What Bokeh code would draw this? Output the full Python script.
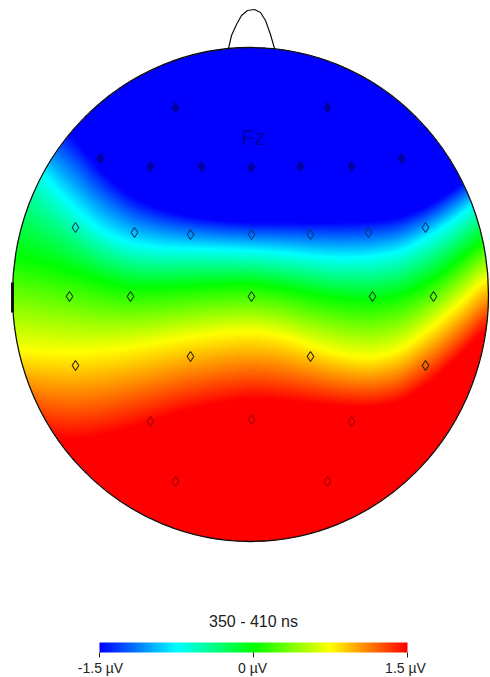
import numpy as np
from bokeh.plotting import figure
from bokeh.models import LinearColorMapper, ColumnDataSource
from bokeh.embed import file_html
from bokeh.resources import INLINE
from bokeh.core.properties import value

# map frame: reference pixel coordinates
iso_x = [12, 40, 70, 100, 130, 160, 190, 220, 250, 280, 310, 340, 370, 400, 430, 460, 488]
iso_blue = [95, 110, 132, 170, 196, 209, 216, 220, 222, 222, 222, 222, 221, 217, 204, 184, 160]
iso_cyan = [135, 170, 204, 230, 243, 247, 248, 249, 250, 252, 255, 257, 256, 251, 235, 215, 190]
iso_green = [255, 262, 270, 280, 287, 287, 285, 284, 283, 287, 293, 298, 300, 295, 281, 258, 235]
iso_yellow = [350, 352, 353, 351, 347, 342, 337, 333, 331, 335, 345, 354, 358, 350, 328, 303, 275]
iso_red = [420, 435, 440, 436, 428, 418, 409, 403, 398, 400, 403, 406, 407, 402, 382, 355, 325]
iso_levels = [-1.5, -0.75, 0.0, 0.75, 1.5]

head_cx, head_cy, head_rx, head_ry = 250, 294, 238, 247
nose_x = [228, 231, 236, 241, 247, 254, 260, 265, 270, 274]
nose_y = [48, 35, 24, 15, 10, 9, 12, 20, 34, 48]

el_x = [175, 327,
        100, 150, 201, 251, 300, 351, 401,
        75, 134, 190, 251, 310, 368, 425,
        69, 130, 251, 372, 433,
        75, 190, 310, 425,
        150, 251, 351,
        175, 327]
el_y = [107, 107,
        158, 166, 166, 167, 166, 166, 158,
        227, 232, 234, 234, 234, 232, 227,
        296, 296, 296, 296, 296,
        365, 356, 356, 365,
        421, 419, 421,
        481, 481]
el_color = ["#000090"] * 9 + ["#063a78"] * 7 + ["#103c10"] * 5 + ["#302000"] * 4 + ["#a00000"] * 5
el_fill = ["#0000a8"] * 9 + [None] * 21

title_text = "350 - 410 ns"
scale_labels = ["-1.5 \u00b5V", "0 \u00b5V", "1.5 \u00b5V"]
stop_vals = [-1.5, -0.75, 0.0, 0.75, 1.5]
stop_rgb = [(0, 0, 255), (0, 255, 255), (0, 255, 0), (255, 255, 0), (255, 0, 0)]

# palette
t = np.linspace(-1.5, 1.5, 256)
pal = ["#%02x%02x%02x" % tuple(int(round(np.interp(v, stop_vals, [c[i] for c in stop_rgb]))) for i in range(3)) for v in t]
mapper = LinearColorMapper(palette=pal, low=-1.5, high=1.5, nan_color="rgba(0,0,0,0)")

W, H = 490, 677
p = figure(width=W, height=H, x_range=(0, 490), y_range=(677, 0), output_backend="svg",
           toolbar_location=None, min_border=0, outline_line_color=None,
           x_axis_type=None, y_axis_type=None, background_fill_color="white")
p.grid.visible = False

# field raster from the read isolines
px = np.arange(8, 490) + 0.5
py = np.arange(40, 546) + 0.5
k = np.ones(25) / 25
def curve(c):
    raw = np.interp(np.arange(-30, 530), iso_x, c)
    return np.interp(px, np.arange(-30, 530), np.convolve(raw, k, mode="same"))
curves = [curve(c) for c in (iso_blue, iso_cyan, iso_green, iso_yellow, iso_red)]
field = np.empty((len(py), len(px)))
for j in range(len(px)):
    field[:, j] = np.interp(py, [c[j] for c in curves], iso_levels)
xx, yy = np.meshgrid(px, py)
field[((xx - head_cx) / head_rx) ** 2 + ((yy - head_cy) / head_ry) ** 2 > 1] = np.nan
p.image(image=[field], x=8, y=40, dw=len(px), dh=len(py), color_mapper=mapper)

# head
p.ellipse(x=[head_cx], y=[head_cy], width=[2 * head_rx], height=[2 * head_ry],
          fill_color=None, line_color="#111111", line_width=1.3)
p.line(nose_x, nose_y, line_color="#111111", line_width=1.2)
p.line([12, 12], [282, 312], line_color="#111111", line_width=3)

# electrodes
src = ColumnDataSource(dict(x=el_x, y=el_y, c=el_color, f=el_fill))
p.scatter("x", "y", source=src, marker="diamond", size=10, fill_color="f", line_color="c", line_width=1.1)
p.text([253], [137], text=["Fz"], text_font=value("Liberation Sans"), text_font_size="22px",
       text_color="#0000a8", text_align="center", text_baseline="middle")

# scale
bar_vals = np.linspace(-1.5, 1.5, 308)[None, :]
p.image(image=[bar_vals], x=99, y=642, dw=308, dh=10, color_mapper=mapper)
tick_px = [99, 253, 407]
p.segment(tick_px, [652] * 3, tick_px, [657] * 3, line_color="#222222", line_width=1)
label_x = [100, 252, 405]
p.text(label_x, [667] * 3, text=scale_labels, text_font=value("Liberation Sans"), text_font_size="14px",
       text_color="#222222", text_align="center", text_baseline="middle")
p.text([253], [621], text=[title_text], text_font=value("Liberation Sans"), text_font_size="16px",
       text_color="#222222", text_align="center", text_baseline="middle")

open("out.html", "w").write(file_html(p, INLINE))
